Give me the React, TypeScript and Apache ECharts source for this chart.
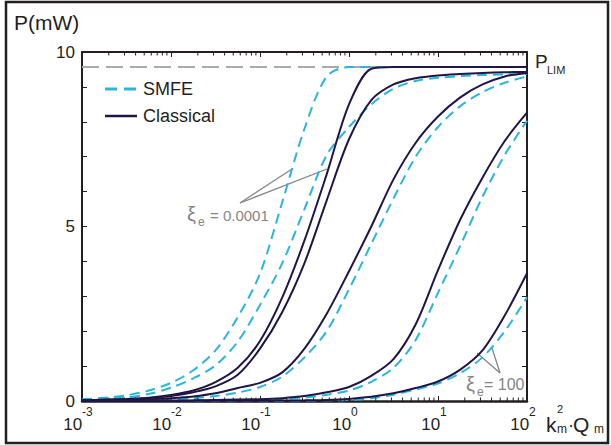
import React, { useEffect, useRef } from 'react';
import * as echarts from 'echarts';

// k_m^2 * Q_m sample points (log grid, quarter decades)
const kQ = [0.001, 0.00178, 0.00316, 0.00562, 0.01, 0.0178, 0.0316, 0.0562, 0.1, 0.178, 0.316, 0.562, 1, 1.78, 3.16, 5.62, 10, 17.8, 31.6, 56.2, 100];

// SMFE (dashed) curves, one per xi_e
const smfeXi0001 = [0.05, 0.09, 0.16, 0.3, 0.52, 0.88, 1.45, 2.4, 3.65, 5.7, 7.8, 9.3, 9.57, 9.57, 9.57, 9.57, 9.57, 9.57, 9.57, 9.57, 9.57];
const smfeXi2 = [0.04, 0.06, 0.1, 0.2, 0.38, 0.65, 1.02, 1.7, 2.75, 3.95, 5.5, 7.05, 7.85, 8.5, 8.95, 9.17, 9.26, 9.31, 9.34, 9.36, 9.37];
const smfeXi3 = [0.01, 0.015, 0.02, 0.03, 0.05, 0.08, 0.14, 0.24, 0.4, 0.7, 1.25, 2.0, 3.2, 4.5, 5.8, 7.0, 7.85, 8.45, 8.85, 9.12, 9.3];
const smfeXi4 = [0, 0, 0, 0.005, 0.01, 0.015, 0.02, 0.03, 0.04, 0.06, 0.1, 0.18, 0.3, 0.55, 0.95, 1.75, 3.1, 4.45, 5.85, 7.05, 8.03];
const smfeXi100 = [0, 0, 0, 0, 0, 0, 0, 0.005, 0.005, 0.01, 0.015, 0.02, 0.03, 0.08, 0.18, 0.33, 0.5, 0.8, 1.25, 2.0, 2.97];

// Classical (solid) curves, one per xi_e
const clsXi0001 = [0.02, 0.04, 0.06, 0.09, 0.17, 0.3, 0.54, 0.95, 1.72, 2.97, 4.6, 6.5, 8.5, 9.52, 9.57, 9.57, 9.57, 9.57, 9.57, 9.57, 9.57];
const clsXi2 = [0.02, 0.03, 0.05, 0.08, 0.14, 0.25, 0.42, 0.75, 1.5, 2.55, 3.95, 5.75, 7.5, 8.62, 9.07, 9.25, 9.33, 9.37, 9.4, 9.42, 9.43];
const clsXi3 = [0.01, 0.02, 0.03, 0.05, 0.08, 0.13, 0.22, 0.37, 0.52, 0.82, 1.5, 2.5, 3.72, 5.0, 6.35, 7.4, 8.15, 8.7, 9.07, 9.3, 9.4];
const clsXi4 = [0, 0, 0.005, 0.01, 0.015, 0.02, 0.03, 0.04, 0.05, 0.08, 0.14, 0.25, 0.4, 0.72, 1.2, 2.2, 3.75, 5.2, 6.4, 7.45, 8.26];
const clsXi100 = [0, 0, 0, 0, 0, 0.005, 0.005, 0.01, 0.01, 0.015, 0.02, 0.03, 0.06, 0.12, 0.22, 0.37, 0.56, 0.9, 1.45, 2.45, 3.66];

const smfeCurves = [smfeXi0001, smfeXi2, smfeXi3, smfeXi4, smfeXi100];
const classicalCurves = [clsXi0001, clsXi2, clsXi3, clsXi4, clsXi100];

const pLim = 9.57;
const yLabelValues = [0, 5, 10];
const legendNames = ['SMFE', 'Classical'];
const minorTicks = [
  0.002, 0.003, 0.004, 0.005, 0.006, 0.007, 0.008, 0.009,
  0.02, 0.03, 0.04, 0.05, 0.06, 0.07, 0.08, 0.09,
  0.2, 0.3, 0.4, 0.5, 0.6, 0.7, 0.8, 0.9,
  2, 3, 4, 5, 6, 7, 8, 9,
  20, 30, 40, 50, 60, 70, 80, 90,
];

const FONT = "'Liberation Sans', Arial, sans-serif";
const DARK = '#231f20';
const GREY = '#858585';
const CYAN = '#2ab5dc';
const NAVY = '#1f1547';

const pairs = (ys: number[]) => kQ.map((x, i) => [x, ys[i]]);

const txt = (x: number, y: number, text: string, size: number, fill: string, align = 'left') => ({
  type: 'text',
  x,
  y,
  silent: true,
  style: { text, font: `${size}px ${FONT}`, fill, textAlign: align, textVerticalAlign: 'middle' },
});

const seg = (x1: number, y1: number, x2: number, y2: number, stroke: string, lineWidth: number, lineDash?: number[]) => ({
  type: 'line',
  silent: true,
  shape: { x1, y1, x2, y2 },
  style: { stroke, lineWidth, lineDash },
});

function buildOption() {
  const series: any[] = [];
  series.push({
    name: 'PLIM',
    type: 'line',
    data: [[0.001, pLim], [100, pLim]],
    symbol: 'none',
    silent: true,
    lineStyle: { color: '#a9a9a9', width: 2, type: [17, 7] },
    z: 1,
  });
  smfeCurves.forEach((ys) =>
    series.push({
      name: legendNames[0],
      type: 'line',
      data: pairs(ys),
      smooth: 0.3,
      symbol: 'none',
      silent: true,
      lineStyle: { color: CYAN, width: 2, type: [10, 6] },
      itemStyle: { color: CYAN },
      z: 2,
    })
  );
  classicalCurves.forEach((ys) =>
    series.push({
      name: legendNames[1],
      type: 'line',
      data: pairs(ys),
      smooth: 0.3,
      symbol: 'none',
      silent: true,
      lineStyle: { color: NAVY, width: 2 },
      itemStyle: { color: NAVY },
      z: 3,
    })
  );
  series.push({
    type: 'custom',
    silent: true,
    clip: false,
    z: 4,
    data: minorTicks.map((v) => [v, 0]),
    encode: { x: 0, y: 1 },
    renderItem: (params: any, api: any) => {
      const v = api.value(0);
      const b = api.coord([v, 0]);
      const t = api.coord([v, 10]);
      return {
        type: 'group',
        children: [
          { type: 'line', shape: { x1: b[0], y1: b[1], x2: b[0], y2: b[1] - 3.5 }, style: { stroke: DARK, lineWidth: 1 } },
          { type: 'line', shape: { x1: t[0], y1: t[1], x2: t[0], y2: t[1] + 3.5 }, style: { stroke: DARK, lineWidth: 1 } },
        ],
      };
    },
  });

  const xCommon = {
    type: 'log',
    logBase: 10,
    min: 0.001,
    max: 100,
    splitLine: { show: false },
    axisTick: { show: true, inside: true, length: 5, lineStyle: { color: DARK, width: 1 } },
  };
  const yCommon = {
    type: 'value',
    min: 0,
    max: 10,
    interval: 1,
    splitLine: { show: false },
    axisTick: { show: true, inside: true, length: 5, lineStyle: { color: DARK, width: 1 } },
  };

  return {
    animation: false,
    backgroundColor: '#ffffff',
    grid: { left: 82, right: 84, top: 52, bottom: 44 },
    xAxis: [
      {
        ...xCommon,
        position: 'bottom',
        axisLine: { show: true, onZero: false, lineStyle: { color: DARK, width: 2.5 } },
        axisLabel: {
          margin: 5,
          formatter: (v: number) => `{b|10}{s|${Math.round(Math.log10(v))}}`,
          rich: {
            b: { fontSize: 17, fontFamily: FONT, color: DARK, lineHeight: 27, verticalAlign: 'bottom' },
            s: { fontSize: 12, fontFamily: FONT, color: DARK, lineHeight: 12, verticalAlign: 'top', padding: [0, 8, 0, 0] },
          },
        },
      },
      {
        ...xCommon,
        position: 'top',
        axisLine: { show: true, onZero: false, lineStyle: { color: DARK, width: 2 } },
        axisLabel: { show: false },
      },
    ],
    yAxis: [
      {
        ...yCommon,
        position: 'left',
        axisLine: { show: true, onZero: false, lineStyle: { color: DARK, width: 2 } },
        axisLabel: {
          margin: 7,
          fontSize: 17,
          color: DARK,
          fontFamily: FONT,
          formatter: (v: number) => (yLabelValues.includes(v) ? String(v) : ''),
        },
      },
      {
        ...yCommon,
        position: 'right',
        axisLine: { show: true, onZero: false, lineStyle: { color: DARK, width: 2 } },
        axisLabel: { show: false },
      },
    ],
    series,
    graphic: [
      {
        type: 'rect',
        silent: true,
        shape: { x: 6, y: 2, width: 602, height: 441 },
        style: { fill: 'none', stroke: DARK, lineWidth: 2.5 },
        z: 10,
      },
      // legend
      seg(105, 89, 137, 89, CYAN, 3, [12, 7]),
      txt(143, 89, legendNames[0], 18, DARK),
      seg(105, 116, 137, 116, NAVY, 2.5),
      txt(143, 116, legendNames[1], 18, DARK),
      // axis titles
      txt(14, 22, 'P(mW)', 21, DARK),
      txt(535, 61, 'P', 19, DARK),
      txt(547, 70, 'LIM', 11, DARK),
      txt(546, 424, 'k', 21, DARK),
      txt(557, 409, '2', 11, DARK),
      txt(557, 429, 'm', 12, DARK),
      txt(568, 425, '·', 18, DARK),
      txt(573, 424, 'Q', 21, DARK),
      txt(594, 429, 'm', 12, DARK),
      // xi_e = 0.0001 annotation
      seg(240, 203, 292, 169, GREY, 1.3),
      seg(240, 203, 327, 169, GREY, 1.3),
      txt(187, 214, 'ξ', 20, GREY),
      txt(198, 222, 'e', 12, GREY),
      txt(210, 215, '= 0.0001', 15, GREY),
      // xi_e = 100 annotation
      seg(500, 373, 477, 353, GREY, 1.3),
      seg(500, 373, 492, 348, GREY, 1.3),
      txt(466, 384, 'ξ', 20, GREY),
      txt(477, 392, 'e', 12, GREY),
      txt(484, 384, '= 100', 16, GREY),
    ],
  };
}

export default function App() {
  const ref = useRef<HTMLDivElement>(null);
  useEffect(() => {
    if (!ref.current) return;
    const chart = echarts.init(ref.current, null, { renderer: 'svg' });
    chart.setOption(buildOption() as any);
    return () => chart.dispose();
  }, []);
  return (
    <div
      ref={ref}
      style={{ position: 'fixed', left: 0, top: 0, width: 611, height: 445, background: '#fff' }}
    />
  );
}
